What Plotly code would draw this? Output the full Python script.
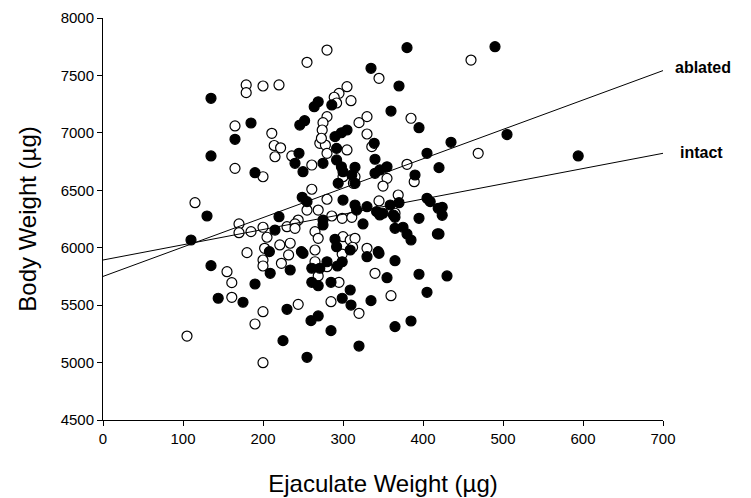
import plotly.graph_objects as go

# Open circles
open_x = [179, 179, 200, 165, 280, 255, 220, 305, 295, 289, 310, 292, 280, 275, 274, 211, 345, 385, 330, 320,
          330, 460, 165, 200, 115, 170, 170, 185, 200, 205, 180, 202, 214, 222, 215, 236, 261, 271, 278, 280,
          305, 273, 300, 313, 261, 280, 255, 269, 244, 286, 299, 230, 240, 240, 265, 269, 221, 234, 300, 265,
          309, 336, 380, 315, 355, 389, 350, 345, 369, 365, 311, 315, 312, 330, 469, 200, 200, 155, 161, 161,
          200, 190, 105, 200, 223, 232, 265, 280, 269, 299, 295, 285, 244, 340, 360, 320]
open_y = [7417, 7350, 7408, 7060, 7721, 7614, 7417, 7402, 7344, 7310, 7280, 7260, 7141, 7089, 7025, 6996, 7475, 7127, 7141, 7089,
          6990, 7634, 6691, 6618, 6392, 6207, 6131, 6140, 6178, 6091, 5957, 5995, 6890, 6870, 6792, 6799, 6720, 6909, 6894, 6822,
          6851, 6953, 6618, 6561, 6509, 6422, 6328, 6328, 6241, 6276, 6256, 6183, 6207, 6169, 6140, 6082, 6024, 6039, 6096, 5980,
          6067, 6880, 6726, 6618, 6604, 6575, 6537, 6407, 6459, 6300, 6265, 6082, 6004, 5995, 6822, 5893, 5841, 5791, 5696, 5568,
          5443, 5336, 5231, 4999, 5864, 5937, 5878, 5835, 5754, 5945, 5699, 5530, 5507, 5777, 5582, 5429]

# Filled circles
filled_x = [135, 185, 269, 264, 286, 252, 246, 305, 298, 380, 335, 370, 360, 395, 490, 505, 165, 135, 190, 130,
            110, 208, 245, 240, 250, 275, 290, 292, 292, 298, 300, 294, 311, 249, 255, 300, 220, 275, 215, 275,
            290, 292, 248, 309, 339, 405, 340, 315, 355, 346, 340, 315, 390, 315, 330, 359, 370, 405, 409, 419,
            342, 346, 350, 363, 365, 317, 325, 395, 365, 375, 380, 385, 418, 344, 435, 594, 420, 424, 424, 420,
            209, 135, 190, 144, 175, 234, 250, 261, 280, 271, 293, 299, 261, 269, 285, 299, 309, 310, 230, 269,
            260, 285, 225, 255, 330, 345, 365, 355, 395, 335, 405, 365, 385, 320, 430]
filled_y = [7301, 7086, 7271, 7228, 7243, 7106, 7068, 7025, 7001, 7742, 7562, 7408, 7190, 7045, 7750, 6985, 6944, 6799, 6653, 6276,
            6067, 5966, 6822, 6735, 6662, 6735, 6967, 6865, 6764, 6705, 6662, 6561, 6633, 6439, 6401, 6415, 6270, 6241, 6154, 6198,
            6073, 6009, 5966, 5980, 6909, 6822, 6770, 6700, 6705, 6677, 6648, 6561, 6633, 6372, 6357, 6372, 6392, 6430, 6401, 6343,
            6314, 6285, 6300, 6285, 6265, 6328, 6207, 6256, 6169, 6178, 6120, 6067, 6120, 5966, 6918, 6799, 6697, 6352, 6282, 6120,
            5777, 5844, 5684, 5560, 5525, 5806, 5951, 5821, 5878, 5821, 5841, 5878, 5699, 5669, 5699, 5560, 5632, 5501, 5464, 5406,
            5365, 5278, 5191, 5046, 5922, 5951, 5887, 5739, 5769, 5539, 5612, 5313, 5362, 5144, 5754]

# Regression lines (intercept, slope)
line_x = [0, 700]
ablated_fit = (5750, 2.56)
intact_fit = (5893, 1.327)
line_labels = ["ablated", "intact"]

x_ticks = [0, 100, 200, 300, 400, 500, 600, 700]
y_ticks = [4500, 5000, 5500, 6000, 6500, 7000, 7500, 8000]

fig = go.Figure()
fig.add_trace(go.Scatter(x=open_x, y=open_y, mode="markers",
                         marker=dict(size=10, color="white", line=dict(color="black", width=1.2)),
                         showlegend=False, cliponaxis=False))
fig.add_trace(go.Scatter(x=filled_x, y=filled_y, mode="markers",
                         marker=dict(size=10, color="black", line=dict(color="black", width=1.2)),
                         showlegend=False, cliponaxis=False))
for fit in (ablated_fit, intact_fit):
    fig.add_trace(go.Scatter(x=line_x, y=[fit[0] + fit[1] * v for v in line_x], mode="lines",
                             line=dict(color="black", width=1), showlegend=False))

end_ab = ablated_fit[0] + ablated_fit[1] * 700
end_in = intact_fit[0] + intact_fit[1] * 700
fig.add_annotation(x=1.017, xref="paper", y=end_ab + 30, yref="y", text="<b>" + line_labels[0] + "</b>",
                   showarrow=False, xanchor="left", yanchor="middle",
                   font=dict(size=16, color="black", family="Liberation Sans, Arial"))
fig.add_annotation(x=1.027, xref="paper", y=end_in + 10, yref="y", text="<b>" + line_labels[1] + "</b>",
                   showarrow=False, xanchor="left", yanchor="middle",
                   font=dict(size=16, color="black", family="Liberation Sans, Arial"))

fig.update_layout(
    width=743, height=490,
    margin=dict(l=95, r=88, t=10, b=78, autoexpand=False),
    paper_bgcolor="white", plot_bgcolor="white",
    font=dict(family="Liberation Sans, Arial", color="black", size=15),
    xaxis=dict(range=[0, 700], tickvals=x_ticks, showgrid=False, zeroline=False, automargin=False,
               showline=True, linecolor="black", linewidth=1, ticks="outside", ticklen=5,
               tickcolor="black", tickfont=dict(size=15),
               title=dict(text="Ejaculate Weight (µg)", font=dict(size=24), standoff=29)),
    yaxis=dict(range=[4500, 8000], tickvals=y_ticks, showgrid=False, zeroline=False, automargin=False,
               showline=True, linecolor="black", linewidth=1, ticks="outside", ticklen=5,
               tickcolor="black", tickfont=dict(size=15),
               title=dict(text="Body Weight (µg)", font=dict(size=24), standoff=17)),
)

fig.write_html("out.html")
